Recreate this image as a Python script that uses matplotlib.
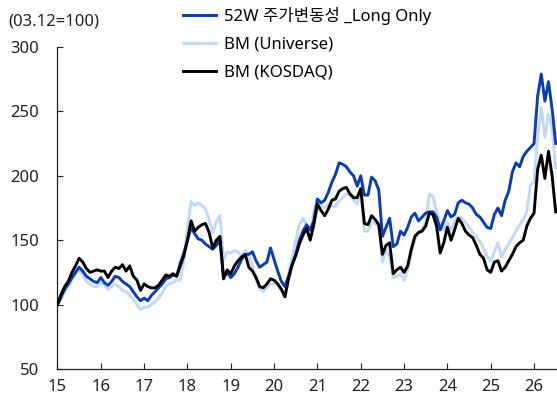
import numpy as np
import matplotlib
matplotlib.use("Agg")
import matplotlib.pyplot as plt

plt.rcParams['font.family'] = ['Noto Sans', 'Noto Sans CJK KR', 'DejaVu Sans']

# monthly index, 2015.01 = 100 (last point ~ mid 2026)
long_only = [
    100, 106, 112, 116, 121, 125, 129, 126, 122, 120, 118, 117,   # 15
    121, 117, 115, 118, 122, 121, 118, 116, 114, 110, 106, 103,   # 16
    105, 103, 107, 110, 113, 116, 120, 121, 123, 122, 132, 140,   # 17
    150, 160, 155, 151, 150, 147, 145, 143, 146, 150, 121, 125,   # 18
    121, 124, 129, 135, 139, 139, 141, 134, 129, 131, 133, 144,   # 19
    135, 126, 118, 114, 122, 131, 139, 150, 157, 162, 158, 165,   # 20
    182, 179, 181, 187, 195, 201, 210, 209, 207, 203, 200, 192,   # 21
    200, 185, 185, 199, 196, 189, 153, 160, 167, 145, 147, 157,   # 22
    154, 160, 168, 171, 165, 168, 171, 172, 172, 168, 158, 165,   # 23
    173, 168, 170, 179, 181, 179, 178, 175, 170, 168, 164, 160,   # 24
    159, 170, 175, 169, 181, 188, 203, 210, 207, 215, 219, 222,   # 25
    225, 262, 279, 258, 273, 252, 225,                            # 26
]
universe = [
    100, 104, 110, 114, 119, 124, 127, 123, 118, 116, 114, 114,
    117, 115, 112, 114, 116, 114, 111, 110, 107, 104, 100, 96,
    98, 98, 100, 102, 105, 109, 114, 116, 117, 119, 119, 134,
    160, 180, 177, 179, 177, 174, 166, 156, 164, 169, 135, 141,
    140, 142, 141, 138, 142, 138, 130, 120, 112, 110, 113, 116,
    116, 116, 111, 108, 124, 136, 150, 162, 167, 162, 152, 172,
    181, 177, 175, 178, 177, 176, 181, 183, 186, 185, 181, 178,
    190, 157, 157, 164, 163, 160, 133, 143, 137, 121, 122, 124,
    119, 127, 140, 150, 156, 159, 164, 186, 184, 172, 162, 158,
    164, 158, 165, 168, 167, 164, 160, 156, 153, 149, 144, 137,
    134, 141, 148, 137, 143, 147, 152, 157, 162, 166, 172, 193,
    195, 230, 253, 230, 248, 237, 206,
]
kosdaq = [
    100, 108, 114, 118, 125, 130, 136, 133, 128, 125, 126, 127,
    126, 126, 121, 126, 129, 128, 131, 126, 130, 122, 119, 111,
    116, 114, 113, 113, 115, 119, 123, 122, 124, 122, 130, 138,
    150, 165, 157, 160, 162, 163, 156, 144, 150, 153, 120, 127,
    124, 130, 134, 137, 139, 129, 126, 121, 114, 113, 116, 120,
    119, 116, 112, 106, 120, 131, 138, 147, 154, 159, 150, 162,
    178, 173, 169, 174, 181, 182, 188, 190, 191, 186, 183, 183,
    190, 163, 162, 169, 166, 162, 139, 146, 148, 124, 127, 129,
    125, 130, 143, 153, 156, 157, 161, 171, 170, 161, 140, 148,
    160, 150, 158, 167, 163, 157, 154, 152, 146, 139, 136, 127,
    125, 133, 134, 126, 129, 134, 139, 145, 148, 150, 161, 167,
    171, 205, 216, 198, 219, 200, 172,
]
labels = ['52W 주가변동성 _Long Only', 'BM (Universe)', 'BM (KOSDAQ)']
years = list(range(15, 27))

t = 15 + np.arange(len(kosdaq)) / 12

fig = plt.figure(figsize=(5.57, 4.03), dpi=100)
ax = fig.add_axes([0.1032, 0.0844, 0.8968, 0.799])

l1, = ax.plot(t, long_only, color='#0A3CB4', lw=2.1, zorder=3)
l2, = ax.plot(t, universe, color='#C3D7F6', lw=2.1, zorder=2)
l3, = ax.plot(t, kosdaq, color='black', lw=2.1, zorder=4)

ax.set_xlim(15, 26.53)
ax.set_ylim(50, 300)
ax.set_xticks(years)
ax.set_yticks([50, 100, 150, 200, 250, 300])
ax.tick_params(direction='in', length=4, width=0.8, labelsize=12, colors='#222222')
ax.tick_params(axis='x', pad=7)
ax.tick_params(axis='y', pad=13)
for s in ['top', 'right']:
    ax.spines[s].set_visible(False)
for s in ['left', 'bottom']:
    ax.spines[s].set_linewidth(0.9)
    ax.spines[s].set_color('#222222')

fig.text(8 / 557, 1 - 22 / 403, '(03.12=100)', fontsize=12, va='center', ha='left', color='#222222')

fig.legend([l1, l2, l3], labels, loc='upper left', bbox_to_anchor=(176 / 557, 1 - 0 / 403),
           frameon=False, fontsize=12, handlelength=2.0, handletextpad=0.45,
           labelspacing=0.72, borderaxespad=0)

fig.savefig('out.png', dpi=100)
